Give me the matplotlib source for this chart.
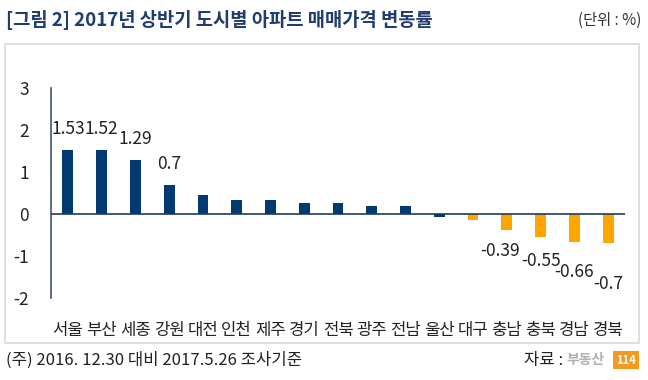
import matplotlib
import matplotlib.pyplot as plt
from matplotlib.patches import Rectangle

matplotlib.use('Agg')

plt.rcParams['font.family'] = ['Noto Sans CJK KR', 'DejaVu Sans']

cities = ['서울', '부산', '세종', '강원', '대전', '인천', '제주', '경기', '전북',
          '광주', '전남', '울산', '대구', '충남', '충북', '경남', '경북']
changes = [1.53, 1.52, 1.29, 0.7, 0.46, 0.33, 0.33, 0.27, 0.26,
           0.18, 0.18, -0.08, -0.14, -0.39, -0.55, -0.66, -0.7]
labelled_top = [0, 1, 2, 3]
labelled_bottom = [13, 14, 15, 16]
# orange from 대구 onwards
colors = ['#003A70'] * 12 + ['#FFA500'] * 5

W, H = 648, 380
fig = plt.figure(figsize=(W / 100, H / 100), dpi=100)

# frame around the chart body
fig.patches.append(Rectangle((5 / W, 1 - 343 / H), 634 / W, 299 / H,
                             transform=fig.transFigure, fill=False,
                             edgecolor='#D9D9D9', linewidth=1.2))

ax = fig.add_axes([51 / W, 1 - 298 / H, 574 / W, 210 / H])
x = list(range(len(cities)))
ax.bar(x, changes, width=0.32, color=colors, zorder=2)
ax.axhline(0, color='#1F3B5C', linewidth=1.2, zorder=3)

ax.set_xlim(-0.5, len(cities) - 0.5)
ax.set_ylim(-2, 3)
ax.set_yticks([-2, -1, 0, 1, 2, 3])
ax.set_yticklabels(['-2', '-1', '0', '1', '2', '3'], fontsize=12.5, color='#222222')
ax.tick_params(axis='y', length=0, pad=16)
ax.set_xticks(x)
ax.set_xticklabels(cities, fontsize=12, color='#222222')
ax.tick_params(axis='x', length=0, pad=17)

for s in ['top', 'right', 'bottom']:
    ax.spines[s].set_visible(False)
ax.spines['left'].set_color('#44546A')
ax.spines['left'].set_linewidth(1.2)

for i in labelled_top:
    ax.annotate(f'{changes[i]:g}', (i, changes[i]), xytext=(0, 15),
                textcoords='offset points', ha='center', va='center',
                fontsize=12.5, color='#222222')

bottom_offsets = [-15, -17, -22, -29]
bottom_shift = [-5, 0, 0, 0]
for i, dy, dx in zip(labelled_bottom, bottom_offsets, bottom_shift):
    ax.annotate(f'{changes[i]:g}', (i, changes[i]), xytext=(dx, dy),
                textcoords='offset points', ha='center', va='center',
                fontsize=12.5, color='#222222')

fig.text(6 / W, 1 - 20 / H, '[그림 2] 2017년 상반기 도시별 아파트 매매가격 변동률',
         fontsize=13.5, fontweight='bold', color='#1F3D6E', va='center', ha='left')
fig.text(641 / W, 1 - 20 / H, '(단위 : %)', fontsize=11, color='#333333',
         va='center', ha='right')

fig.text(6 / W, 1 - 360 / H, '(주) 2016. 12.30 대비 2017.5.26 조사기준',
         fontsize=12, color='#222222', va='center', ha='left')
fig.text(563 / W, 1 - 360 / H, '자료 :', fontsize=12, color='#222222',
         va='center', ha='right')
fig.text(566 / W, 1 - 360 / H, '부동산', fontsize=10, fontweight='bold',
         color='#B0B0B0', va='center', ha='left')
fig.text(626 / W, 1 - 360 / H, '114', fontsize=8, fontweight='bold',
         color='white', va='center', ha='center',
         bbox=dict(boxstyle='square,pad=0.25', facecolor='#F39A1E', edgecolor='none'))

fig.savefig('out.png', dpi=100)
